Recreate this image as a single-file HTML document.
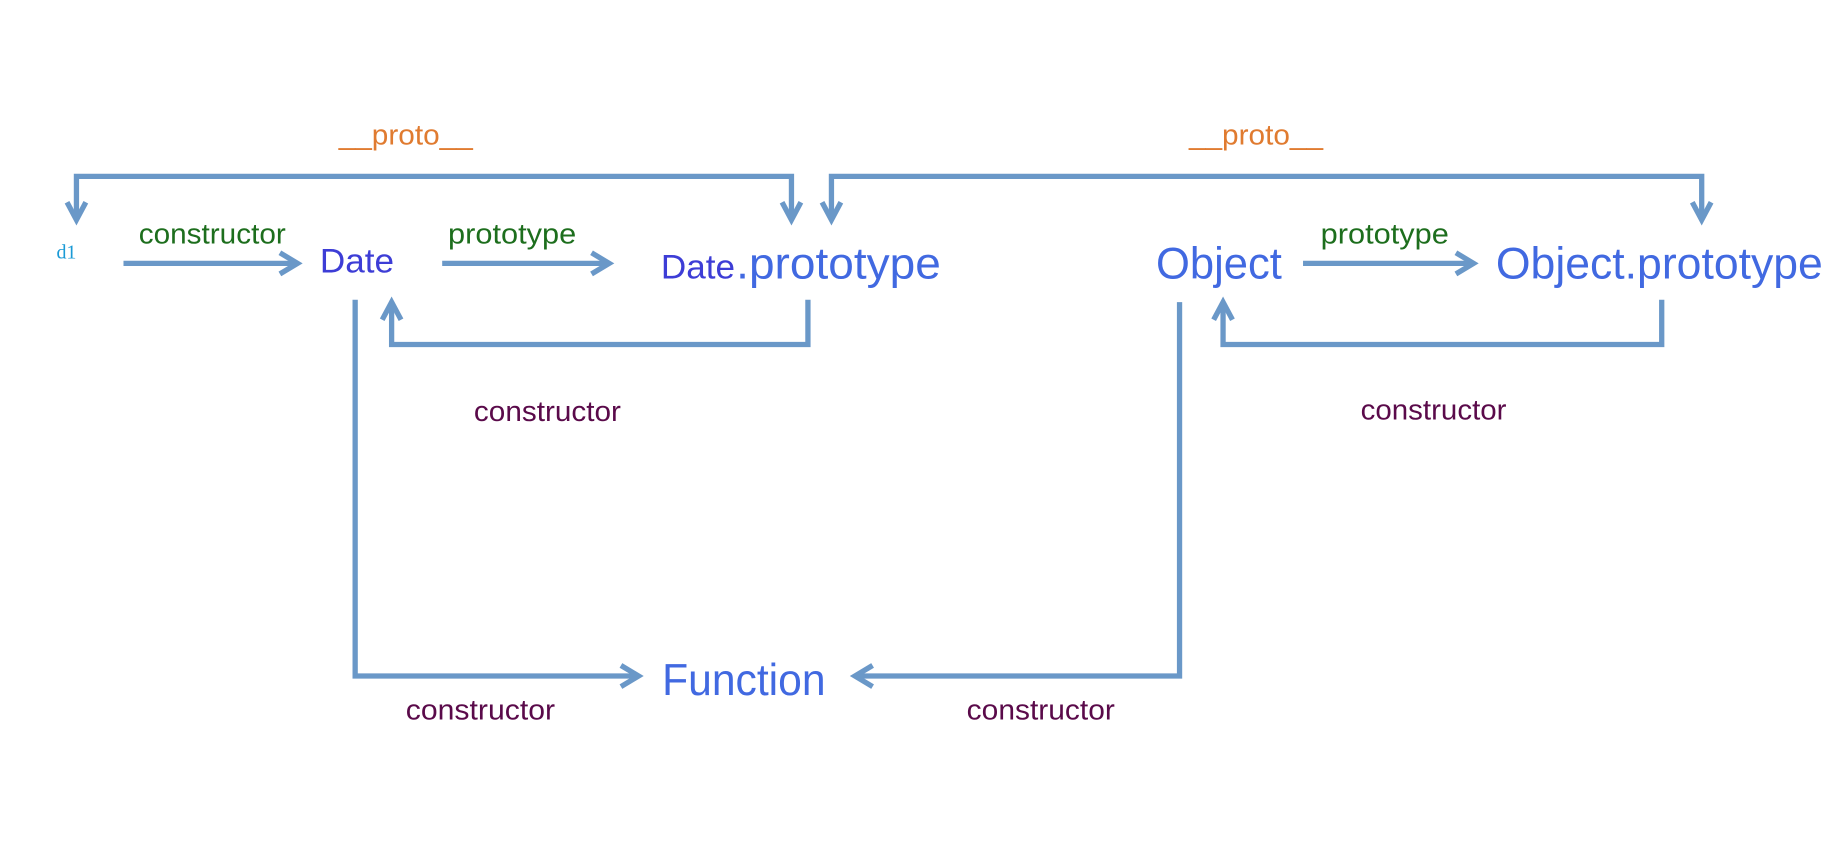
<!DOCTYPE html>
<html><head><meta charset="utf-8"><style>
html,body{margin:0;padding:0;background:#fff;width:1844px;height:850px;overflow:hidden}
svg{display:block}
text{font-family:"Liberation Sans",sans-serif}
</style></head><body>
<svg width="1844" height="850" viewBox="0 0 1568 723" preserveAspectRatio="none" xmlns="http://www.w3.org/2000/svg">
<g fill="none" stroke="#6a98c8" stroke-width="4.5" stroke-linejoin="miter">
<polyline points="65,187 65,150 673,150 673,187"/>
<polyline points="57,172 65,187 73,172"/>
<polyline points="665,172 673,187 681,172"/>
<polyline points="707,187 707,150 1447,150 1447,187"/>
<polyline points="699,172 707,187 715,172"/>
<polyline points="1439,172 1447,187 1455,172"/>
<line x1="105" y1="224" x2="253" y2="224"/>
<polyline points="238,215 253,224 238,233"/>
<line x1="376" y1="224" x2="518" y2="224"/>
<polyline points="503,215 518,224 503,233"/>
<polyline points="687,255 687,293 333,293 333,257"/>
<polyline points="325,272 333,257 341,272"/>
<polyline points="302,255 302,575 543,575"/>
<polyline points="528,566 543,575 528,584"/>
<polyline points="1003,257 1003,575 727,575"/>
<polyline points="742,566 727,575 742,584"/>
<line x1="1108" y1="224" x2="1253" y2="224"/>
<polyline points="1238,215 1253,224 1238,233"/>
<polyline points="1413,255 1413,293 1040,293 1040,257"/>
<polyline points="1032,272 1040,257 1048,272"/>
</g>
<g>
<text x="288" y="123" font-size="24" fill="#e07b30" textLength="114" lengthAdjust="spacingAndGlyphs">__proto__</text>
<text x="1011" y="123" font-size="24" fill="#e07b30" textLength="114" lengthAdjust="spacingAndGlyphs">__proto__</text>
<text x="48" y="220" font-size="17" fill="#1a9ad6" style="font-family:'Liberation Serif',serif">d1</text>
<text x="118" y="207" font-size="24" fill="#1d6e1d" textLength="125" lengthAdjust="spacingAndGlyphs">constructor</text>
<text x="272" y="232" font-size="29" fill="#3d3dd6" textLength="63" lengthAdjust="spacingAndGlyphs">Date</text>
<text x="381" y="207" font-size="24" fill="#1d6e1d" textLength="109" lengthAdjust="spacingAndGlyphs">prototype</text>
<text x="562" y="237" font-size="29" fill="#3d3dd6" textLength="63" lengthAdjust="spacingAndGlyphs">Date</text>
<text x="626" y="237" font-size="38" fill="#4169e1" textLength="174" lengthAdjust="spacingAndGlyphs">.prototype</text>
<text x="403" y="358" font-size="24" fill="#5a0a4a" textLength="125" lengthAdjust="spacingAndGlyphs">constructor</text>
<text x="983" y="237" font-size="38" fill="#4169e1" textLength="107" lengthAdjust="spacingAndGlyphs">Object</text>
<text x="1123" y="207" font-size="24" fill="#1d6e1d" textLength="109" lengthAdjust="spacingAndGlyphs">prototype</text>
<text x="1272" y="237" font-size="38" fill="#4169e1" textLength="278" lengthAdjust="spacingAndGlyphs">Object.prototype</text>
<text x="1157" y="357" font-size="24" fill="#5a0a4a" textLength="124" lengthAdjust="spacingAndGlyphs">constructor</text>
<text x="563" y="591" font-size="38" fill="#4169e1" textLength="139" lengthAdjust="spacingAndGlyphs">Function</text>
<text x="345" y="612" font-size="24" fill="#5a0a4a" textLength="127" lengthAdjust="spacingAndGlyphs">constructor</text>
<text x="822" y="612" font-size="24" fill="#5a0a4a" textLength="126" lengthAdjust="spacingAndGlyphs">constructor</text>
</g>
</svg>
</body></html>
